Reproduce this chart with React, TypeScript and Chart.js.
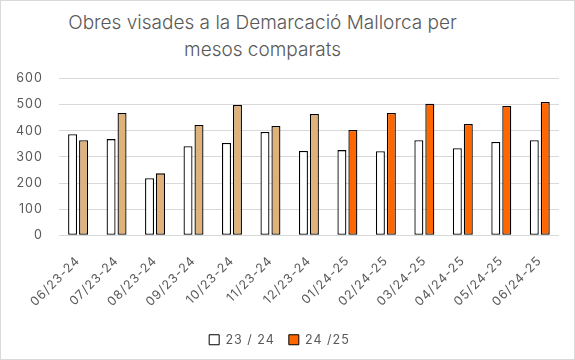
import React, { useEffect, useRef } from "react";
import { Chart, registerables } from "chart.js";

Chart.register(...registerables);

const categories = [
  "06/23-24", "07/23-24", "08/23-24", "09/23-24", "10/23-24", "11/23-24", "12/23-24",
  "01/24-25", "02/24-25", "03/24-25", "04/24-25", "05/24-25", "06/24-25",
];
const series2324 = [387, 368, 218, 341, 353, 395, 323, 326, 322, 364, 333, 357, 364];
const series2425 = [364, 468, 237, 422, 499, 418, 464, 403, 468, 503, 426, 495, 510];
const tan = "#DEB27A";
const orange = "#FF6600";
const colors2425 = categories.map((c) => (c.endsWith("23-24") ? tan : orange));
const labels = ["23 / 24", "24 /25"];
const yTicks = [0, 100, 200, 300, 400, 500, 600];
const titleLines = ["Obres visades a la Demarcació Mallorca per", "mesos comparats"];

const FONT = "Inter, 'Open Sans', sans-serif";
const GREY = "#595959";
const TICK_SIZE = 12.5;

const spacingPlugin = {
  id: "spacing",
  afterInit(chart: any) {
    chart.ctx.letterSpacing = "1px";
  },
  beforeDraw(chart: any) {
    chart.ctx.letterSpacing = "1px";
  },
};

export default function App() {
  const ref = useRef<HTMLCanvasElement>(null);
  useEffect(() => {
    document.body.style.margin = "0";
    const chart = new Chart(ref.current!, {
      type: "bar",
      data: {
        labels: categories,
        datasets: [
          {
            label: labels[0],
            data: series2324,
            backgroundColor: "#FFFFFF",
            borderColor: "#000000",
            borderWidth: 1.3,
            borderSkipped: false,
            categoryPercentage: 0.57,
            barPercentage: 0.82,
          },
          {
            label: labels[1],
            data: series2425,
            backgroundColor: colors2425,
            borderColor: "#000000",
            borderWidth: 1.3,
            borderSkipped: false,
            categoryPercentage: 0.57,
            barPercentage: 0.82,
          },
        ],
      },
      plugins: [spacingPlugin],
      options: {
        animation: false,
        responsive: false,
        layout: { padding: { left: 0, right: 15, top: 6, bottom: 3 } },
        plugins: {
          title: { display: false },
          legend: {
            position: "bottom",
            labels: {
              color: GREY,
              font: { family: FONT, size: TICK_SIZE },
              boxWidth: 10,
              boxHeight: 10,
              padding: 14,
              generateLabels: () => [
                { text: labels[0], fillStyle: "#FFFFFF", strokeStyle: "#000000", lineWidth: 1, fontColor: GREY, datasetIndex: 0 },
                { text: labels[1], fillStyle: orange, strokeStyle: "#000000", lineWidth: 1, fontColor: GREY, datasetIndex: 1 },
              ],
            },
          },
          tooltip: { enabled: false },
        },
        scales: {
          x: {
            grid: { display: false },
            border: { display: false },
            ticks: {
              color: GREY,
              font: { family: FONT, size: TICK_SIZE },
              maxRotation: 45,
              minRotation: 45,
              autoSkip: false,
              padding: 10,
            },
          },
          y: {
            min: 0,
            max: 600,
            afterBuildTicks: (axis: any) => {
              axis.ticks = yTicks.map((v) => ({ value: v }));
            },
            grid: { color: "#D9D9D9", lineWidth: 1, drawTicks: false },
            border: { display: false },
            ticks: {
              color: GREY,
              font: { family: FONT, size: TICK_SIZE },
              padding: 16,
            },
          },
        },
      },
    });
    return () => chart.destroy();
  }, []);
  return (
    <div
      style={{
        position: "relative",
        width: 575,
        height: 360,
        border: "1px solid #D9D9D9",
        boxSizing: "border-box",
        background: "#fff",
        overflow: "hidden",
      }}
    >
      <div
        style={{
          position: "absolute",
          top: 8,
          left: 0,
          width: 523,
          textAlign: "center",
          fontFamily: FONT,
          fontSize: 19,
          fontWeight: 300,
          lineHeight: "27px",
          color: GREY,
        }}
      >
        {titleLines.map((t, i) => (
          <div key={i}>{t}</div>
        ))}
      </div>
      <canvas
        ref={ref}
        width={574}
        height={304}
        style={{ position: "absolute", top: 54, left: -1 }}
      />
    </div>
  );
}
